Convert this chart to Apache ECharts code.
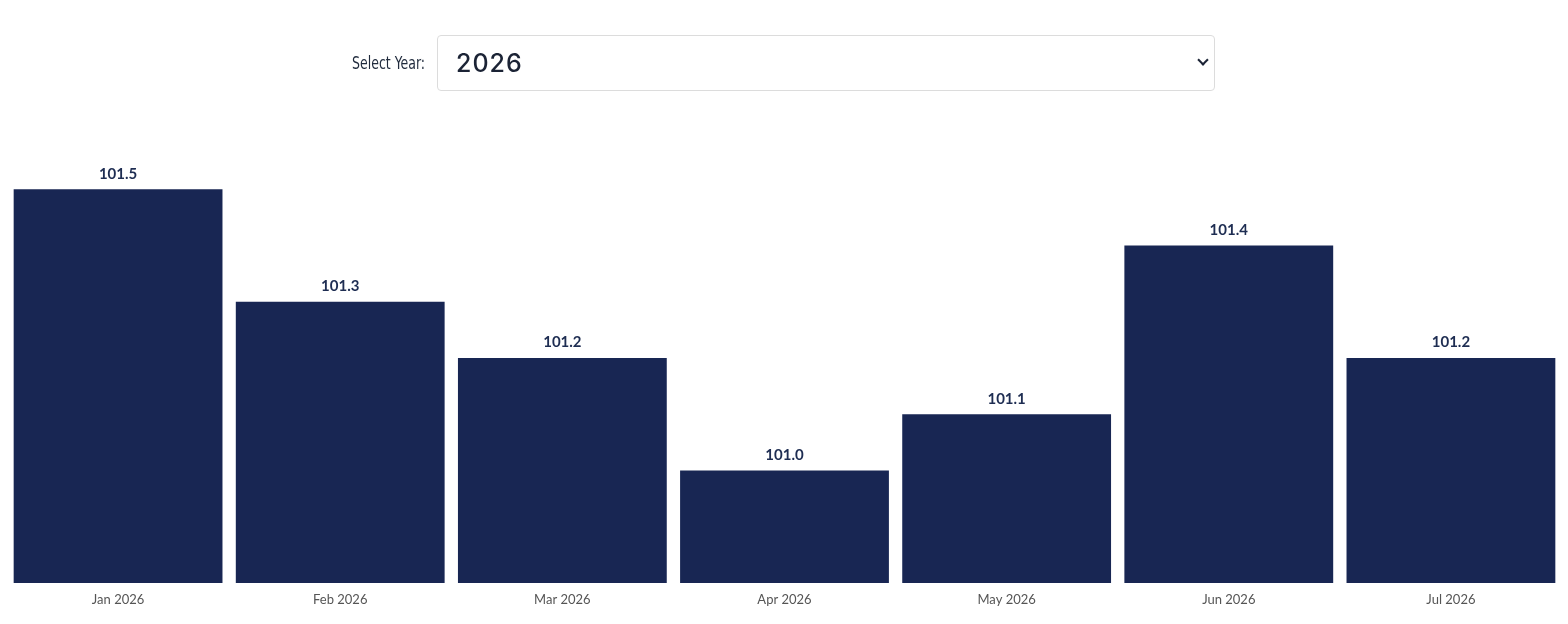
<!DOCTYPE html>
<html>
<head>
<meta charset="utf-8">
<title>Index by month</title>
<script src="https://cdn.jsdelivr.net/npm/echarts@6/dist/echarts.min.js"></script>
<style>
  html, body { margin: 0; padding: 0; background: #fff; }
  #wrap { position: relative; width: 1568px; height: 624px; overflow: hidden; }
  #chart { position: absolute; left: 0; top: 0; width: 1568px; height: 624px; }
  .year-picker { position: absolute; left: 0; top: 35px; width: 1568px; height: 56px; z-index: 2; }
  .year-picker label {
    position: absolute; right: 1143px; top: 0; height: 56px; line-height: 56px;
    font-family: "Liberation Sans Narrow", "DejaVu Sans Condensed", "Roboto", sans-serif;
    font-size: 17px; font-weight: 500; color: #1f2a3c;
    transform: scaleX(0.82); transform-origin: right center;
  }
  .year-picker select {
    position: absolute; left: 437px; top: 0; width: 778px; height: 56px; box-sizing: border-box;
    -webkit-appearance: none; appearance: none; background: #fff;
    border: 1px solid #dcdcdc; border-radius: 4px; padding: 0 0 0 18px;
    font-family: "Inter", "Open Sans", sans-serif; font-size: 25px; font-weight: 500;
    letter-spacing: 1px; color: #1b2335; outline: none;
  }
  .chev {
    position: absolute; left: 1199px; top: 21px; width: 6px; height: 6px;
    border-right: 2px solid #1b2335; border-bottom: 2px solid #1b2335; transform: rotate(45deg);
    pointer-events: none;
  }
</style>
</head>
<body>
<div id="wrap">
  <div id="chart"></div>
  <div class="year-picker">
    <label for="year">Select Year:</label>
    <select id="year"><option>2026</option><option>2025</option><option>2024</option></select>
    <span class="chev"></span>
  </div>
</div>
<script>
// months shown for the selected year
const months = ['Jan 2026', 'Feb 2026', 'Mar 2026', 'Apr 2026', 'May 2026', 'Jun 2026', 'Jul 2026'];
const values = [101.5, 101.3, 101.2, 101.0, 101.1, 101.4, 101.2];

const barColor = '#182653';

const chart = echarts.init(document.getElementById('chart'));

chart.setOption({
  animation: false,
  grid: { left: 7, right: 6, top: 133, bottom: 41 },
  xAxis: {
    type: 'category',
    data: months,
    axisLine: { show: false },
    axisTick: { show: false },
    axisLabel: {
      margin: 10,
      color: '#555',
      fontFamily: 'Lato',
      fontSize: 13
    }
  },
  yAxis: {
    type: 'value',
    min: 100.8,
    max: 101.6,
    show: false
  },
  series: [{
    type: 'bar',
    data: values,
    barCategoryGap: '6%',
    itemStyle: { color: barColor },
    label: {
      show: true,
      position: 'top',
      distance: 8,
      color: '#1e2d52',
      fontFamily: 'Lato',
      fontWeight: 'bold',
      fontSize: 15,
      formatter: p => p.value.toFixed(1)
    }
  }]
});

window.addEventListener('resize', () => chart.resize());
</script>
</body>
</html>
